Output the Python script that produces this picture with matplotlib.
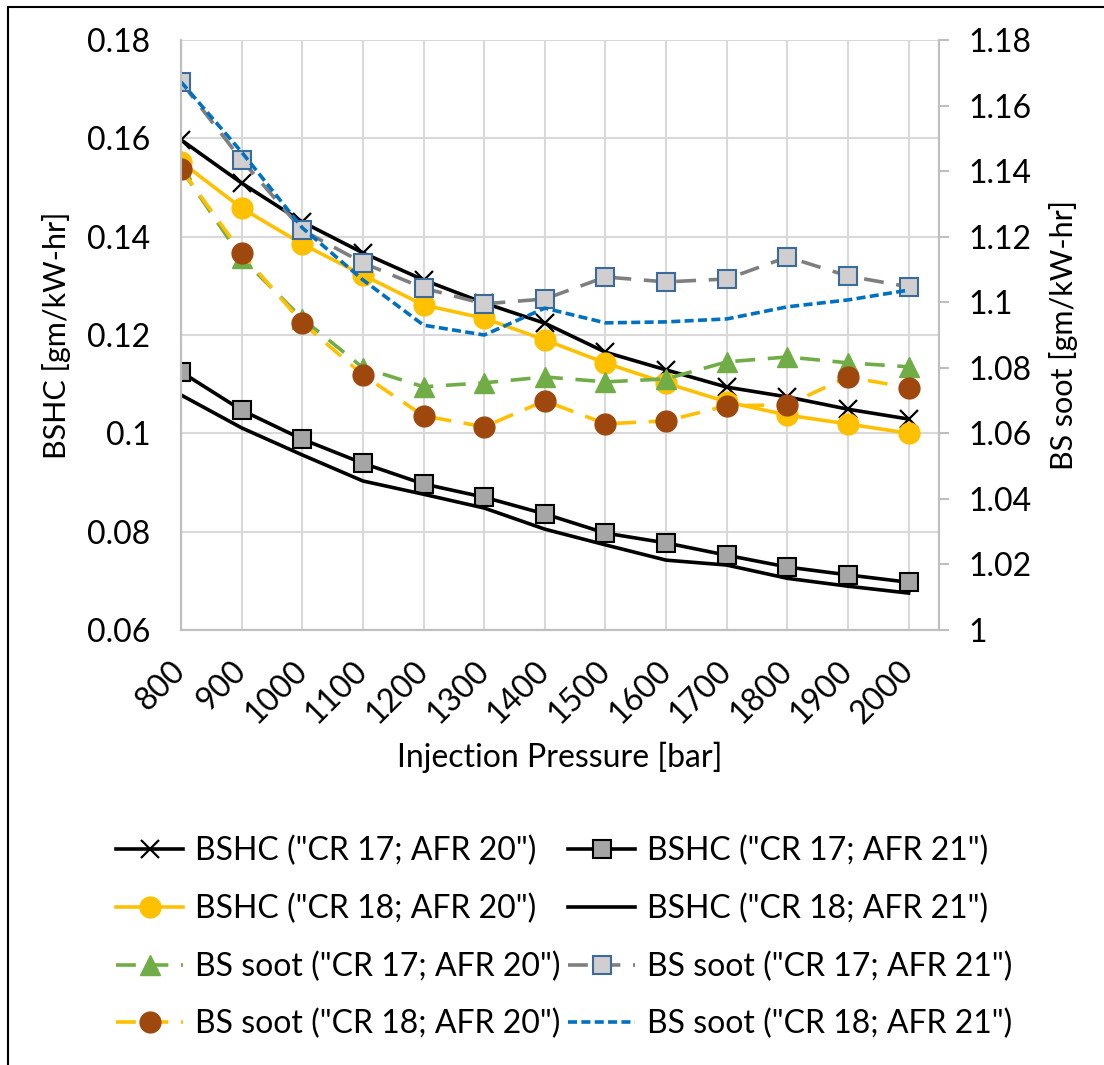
import matplotlib
matplotlib.use("Agg")
import matplotlib.pyplot as plt
from matplotlib.patches import Rectangle
from matplotlib.ticker import FuncFormatter, MultipleLocator

plt.rcParams['font.family'] = ['Lato', 'DejaVu Sans']

# injection pressure [bar]
pressure = [800, 900, 1000, 1100, 1200, 1300, 1400, 1500, 1600, 1700, 1800, 1900, 2000]

# BSHC [gm/kW-hr] (left axis)
bshc_cr17_afr20 = [0.1597, 0.1509, 0.1430, 0.1367, 0.1312, 0.1265, 0.1224,
                   0.1165, 0.1129, 0.1094, 0.1074, 0.1049, 0.1029]
bshc_cr17_afr21 = [0.1125, 0.1047, 0.0988, 0.0939, 0.0897, 0.0870, 0.0836,
                   0.0797, 0.0777, 0.0752, 0.0728, 0.0712, 0.0697]
bshc_cr18_afr20 = [0.1552, 0.1458, 0.1385, 0.1322, 0.1261, 0.1234, 0.1190,
                   0.1143, 0.1102, 0.1064, 0.1037, 0.1019, 0.1000]
bshc_cr18_afr21 = [0.1078, 0.1011, 0.0956, 0.0903, 0.0876, 0.0848, 0.0805,
                   0.0773, 0.0742, 0.0732, 0.0705, 0.0689, 0.0675]

# BS soot [gm/kW-hr] (right axis)
soot_cr17_afr20 = [1.1407, 1.1135, 1.0950, 1.0800, 1.0742, 1.0754, 1.0772,
                   1.0757, 1.0766, 1.0818, 1.0833, 1.0815, 1.0803]
soot_cr17_afr21 = [1.1672, 1.1434, 1.1220, 1.1120, 1.1043, 1.0995, 1.1010,
                   1.1077, 1.1062, 1.1071, 1.1138, 1.1080, 1.1047]
soot_cr18_afr20 = [1.1407, 1.1150, 1.0937, 1.0778, 1.0653, 1.0620, 1.0699,
                   1.0629, 1.0638, 1.0684, 1.0687, 1.0772, 1.0739]
soot_cr18_afr21 = [1.1672, 1.1458, 1.1227, 1.1068, 1.0930, 1.0900, 1.0982,
                   1.0937, 1.0940, 1.0949, 1.0986, 1.1007, 1.1037]

fig = plt.figure(figsize=(11.04, 10.65), dpi=100)
ax = fig.add_axes([0.164, 0.4085, 0.6865, 0.5539])
ax2 = ax.twinx()

fs = 23
lw = 2.6
# left axis series
l1, = ax.plot(pressure, bshc_cr17_afr20, color='black', lw=lw, marker='x',
              ms=13, mew=1.6, label='BSHC ("CR 17; AFR 20")')
l2, = ax.plot(pressure, bshc_cr17_afr21, color='black', lw=lw, marker='s',
              ms=13, mfc='#A5A5A5', mec='black', mew=1.5,
              label='BSHC ("CR 17; AFR 21")')
l3, = ax.plot(pressure, bshc_cr18_afr20, color='#FFC000', lw=lw, marker='o',
              ms=15, mfc='#FFC000', mec='#FFC000',
              label='BSHC ("CR 18; AFR 20")')
l4, = ax.plot(pressure, bshc_cr18_afr21, color='black', lw=lw,
              label='BSHC ("CR 18; AFR 21")')

# right axis series
s1, = ax2.plot(pressure, soot_cr17_afr20, color='#70AD47', lw=lw, ls=(0, (5.5, 3.5)),
               marker='^', ms=14, mfc='#70AD47', mec='#70AD47',
               label='BS soot ("CR 17; AFR 20")')
s2, = ax2.plot(pressure, soot_cr17_afr21, color='#7F7F7F', lw=lw, ls=(0, (5.5, 3.5)),
               marker='s', ms=13, mfc='#D0CECE', mec='#3B6A9C', mew=1.5,
               label='BS soot ("CR 17; AFR 21")')
s3, = ax2.plot(pressure, soot_cr18_afr20, color='#FFC000', lw=lw, ls=(0, (5.5, 3.5)),
               marker='o', ms=15, mfc='#9E480E', mec='#9E480E',
               label='BS soot ("CR 18; AFR 20")')
s4, = ax2.plot(pressure, soot_cr18_afr21, color='#0070C0', lw=lw, ls=(0, (2.5, 1.2)),
               label='BS soot ("CR 18; AFR 21")')

fmt = FuncFormatter(lambda v, p: f"{v:g}")

ax.set_xlim(800, 2050)
ax.set_xticks(pressure)
ax.set_ylim(0.06, 0.18)
ax.yaxis.set_major_locator(MultipleLocator(0.02))
ax.yaxis.set_major_formatter(fmt)
ax2.set_ylim(1.0, 1.18)
ax2.yaxis.set_major_locator(MultipleLocator(0.02))
ax2.yaxis.set_major_formatter(fmt)

ax.grid(True, color='#D9D9D9', lw=1.5)
ax.set_axisbelow(True)
for a in (ax, ax2):
    for sp in a.spines.values():
        sp.set_color('#BFBFBF')
        sp.set_linewidth(1.5)
    a.spines['top'].set_visible(False)

ax.tick_params(axis='y', length=0, pad=22, labelsize=fs)
ax.tick_params(axis='x', length=0, pad=26, labelsize=fs)
for t in ax.get_xticklabels():
    t.set_rotation(45)
    t.set_ha('right')
    t.set_va('center')
    t.set_rotation_mode('anchor')
ax2.tick_params(axis='y', length=7, width=1.5, color='#BFBFBF', pad=14, labelsize=fs)

ax.set_xlabel('Injection Pressure [bar]', fontsize=fs)
ax.xaxis.set_label_coords(0.5, -0.19)
ax.set_ylabel('BSHC [gm/kW-hr]', fontsize=22)
ax.yaxis.set_label_coords(-0.145, 0.5)
ax2.set_ylabel('BS soot [gm/kW-hr]', fontsize=22)
ax2.yaxis.set_label_coords(1.145, 0.5)

handles = [l1, l3, s1, s3, l2, l4, s2, s4]
fig.legend(handles=handles, labels=[h.get_label() for h in handles], ncol=2,
           loc='upper left', bbox_to_anchor=(0.079, 0.242), frameon=False,
           fontsize=fs, handlelength=2.1, handletextpad=0.37,
           columnspacing=0.25, labelspacing=0.85)

# chart border
fig.patches.append(Rectangle((8 / 1104, -0.02), 1.1, 1 - 7 / 1065 + 0.02,
                             transform=fig.transFigure, fill=False,
                             edgecolor='black', lw=1.5))

fig.savefig('out.png', dpi=100)
